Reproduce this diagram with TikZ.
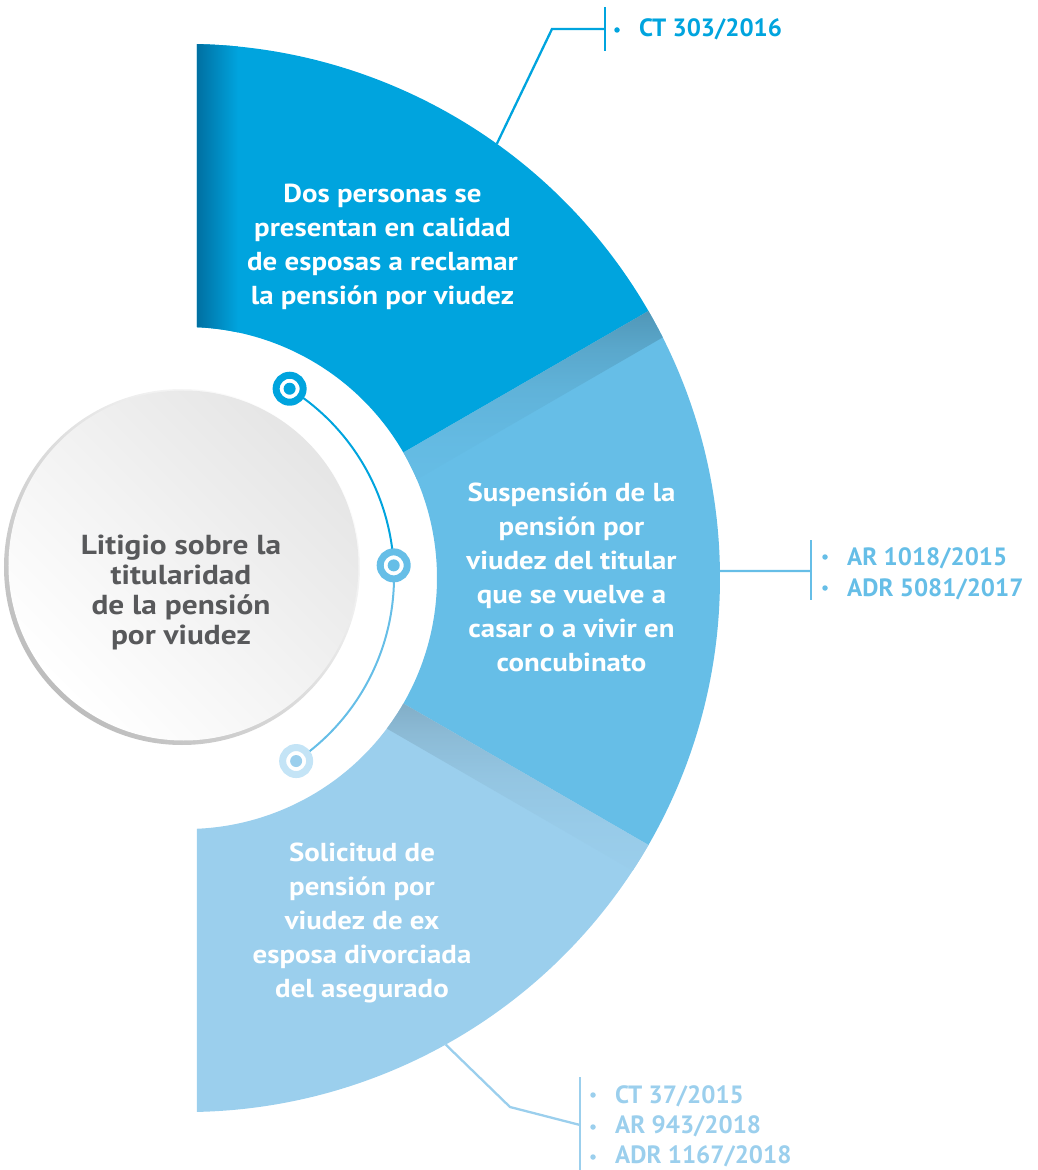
\documentclass[tikz,border=0pt]{standalone}
\usepackage{fontspec}
\setmainfont{PT Sans}
\newfontfamily\secfont[FakeStretch=1.11]{PT Sans}
\newfontfamily\circfont[FakeStretch=1.14]{PT Sans}
\usetikzlibrary{calc}
\definecolor{cA}{RGB}{0,164,222}
\definecolor{cAd}{RGB}{0,112,162}
\definecolor{cB}{RGB}{102,190,231}
\definecolor{cC}{RGB}{155,207,237}
\definecolor{cCl}{RGB}{196,228,246}
\definecolor{txtgray}{RGB}{88,89,91}
\pgfdeclareverticalshading{shadowB}{100bp}{color(0bp)=(cB); color(25bp)=(cB); color(40bp)=(cB!98!black); color(52bp)=(cB!94!black); color(62bp)=(cB!88!black); color(69bp)=(cB!81!black); color(75bp)=(cB!73!black); color(100bp)=(cB!73!black)}
\pgfdeclareverticalshading{shadowC}{100bp}{color(0bp)=(cC); color(25bp)=(cC); color(40bp)=(cC!98!black); color(52bp)=(cC!95!black); color(62bp)=(cC!90!black); color(69bp)=(cC!84!black); color(75bp)=(cC!77!black); color(100bp)=(cC!77!black)}
\begin{document}
\begin{tikzpicture}[x=1pt,y=1pt,
  secttext/.style={text=white, font=\secfont\fontsize{26}{34}\selectfont\bfseries, align=center, inner sep=0pt},
  circtext/.style={text=txtgray, font=\circfont\fontsize{27.5}{30}\selectfont\bfseries, align=center, inner sep=0pt},
  reftext/.style={font=\fontsize{25}{30}\selectfont\bfseries, anchor=base west, inner sep=0pt},
  conn/.style={line width=2.3pt},
  bul/.style={circle, inner sep=0pt, minimum size=5.5pt},
  ringdot/.style={circle, inner sep=0pt, minimum size=27pt, line width=7pt, fill=white, draw=#1},
  cdot/.style={circle, inner sep=0pt, minimum size=12pt, fill=#1},
]
\useasboundingbox (-186,-592) rectangle (852,578);
\def\R{534}
\def\r{251}
% ---------- sectors ----------
\begin{scope}
  \clip (11,-600) rectangle (900,600);
  \fill[cC] (-100:\r) -- (-100:\R) arc[start angle=-100,end angle=-30,radius=\R] -- (-30:\r) arc[start angle=-30,end angle=-100,radius=\r] -- cycle;
  \fill[cB] (-30:\r) -- (-30:\R) arc[start angle=-30,end angle=30,radius=\R] -- (30:\r) arc[start angle=30,end angle=-30,radius=\r] -- cycle;
  \fill[cA] (30:\r) -- (30:\R) arc[start angle=30,end angle=100,radius=\R] -- (100:\r) arc[start angle=100,end angle=30,radius=\r] -- cycle;
  % shadow on middle sector (cast by top sector)
  \begin{scope}
    \clip (-30:\r) -- (-30:\R) arc[start angle=-30,end angle=30,radius=\R] -- (30:\r) arc[start angle=30,end angle=-30,radius=\r] -- cycle;
    \shade[rotate=30, shading=shadowB] (200,-30) rectangle (570,0);
  \end{scope}
  % shadow on bottom sector (cast by middle sector)
  \begin{scope}
    \clip (-100:\r) -- (-100:\R) arc[start angle=-100,end angle=-30,radius=\R] -- (-30:\r) arc[start angle=-30,end angle=-100,radius=\r] -- cycle;
    \shade[rotate=-30, shading=shadowC] (200,-30) rectangle (570,0);
  \end{scope}
  % left gradient of top sector
  \begin{scope}
    \clip (30:\r) -- (30:\R) arc[start angle=30,end angle=100,radius=\R] -- (100:\r) arc[start angle=100,end angle=30,radius=\r] -- cycle;
    \shade[left color=cAd, right color=cA] (11,240) rectangle (52,540);
  \end{scope}
\end{scope}
% ---------- central circle ----------
\shade[top color=white, bottom color=black!26, shading angle=-45] (-4,11) circle[radius=178];
\shade[top color=black!10, bottom color=white, shading angle=-45] (-2.5,12.5) circle[radius=175];
\node[circtext] (center) at (-5,-14) {Litigio sobre la\\titularidad\\de la pensión\\por viudez};
% ---------- arc with dots ----------
\coordinate (ac) at (-14,1);
\coordinate (p1) at ($(ac)+(58:222)$);
\coordinate (p2) at ($(ac)+(3:222)$);
\coordinate (p3) at ($(ac)+(-56:222)$);
\draw[cA, line width=2pt] (p1) arc[start angle=58, end angle=3, radius=222];
\draw[cB, line width=2pt] (p2) arc[start angle=3, end angle=-56, radius=222];
\node[ringdot=cA] (d1) at (p1) {};
\node[cdot=cA] at (d1) {};
\node[ringdot=cB] (d2) at (p2) {};
\node[cdot=cB] at (d2) {};
\node[ringdot=cCl] (d3) at (p3) {};
\node[cdot=cC] at (d3) {};
% ---------- sector texts ----------
\node[secttext] (s1) at (196.5,331) {Dos personas se\\presentan en calidad\\de esposas a reclamar\\la pensión por viudez};
\node[secttext] (s2) at (385.5,0.5) {Suspensión de la\\pensión por\\viudez del titular\\que se vuelve a\\casar o a vivir en\\concubinato};
\node[secttext] (s3) at (176,-345) {Solicitud de\\pensión por\\viudez de ex\\esposa divorciada\\del asegurado};
% ---------- top reference ----------
\coordinate (t0) at (54.4:\R);
\coordinate (t1) at (366,549);
\coordinate (t2) at (419,549);
\coordinate (t2a) at (419,571);
\coordinate (t2b) at (419,527);
\draw[conn, cA] (t0) -- (t1) -- (t2);
\draw[conn, cA] (t2a) -- (t2b);
\node[bul, fill=cA] (b1) at (431,548) {};
\node[reftext, text=cA] (r1) at (453,541) {CT 303/2016};
% ---------- middle reference ----------
\coordinate (m0) at (0.75:\R);
\coordinate (m1) at (625,7);
\coordinate (m1a) at (625,38);
\coordinate (m1b) at (625,-22);
\draw[conn, cB] (m0) -- (m1);
\draw[conn, cB] (m1a) -- (m1b);
\node[bul, fill=cB] (b2) at (639,21) {};
\node[bul, fill=cB] (b3) at (639,-10) {};
\node[reftext, text=cB] (r2) at (661,13) {AR 1018/2015};
\node[reftext, text=cB] (r3) at (661,-18) {ADR 5081/2017};
% ---------- bottom reference ----------
\coordinate (u0) at (-60.9:\R);
\coordinate (u1) at (324,-529);
\coordinate (u2) at (394,-547);
\coordinate (u2a) at (394,-499);
\coordinate (u2b) at (394,-592);
\draw[conn, cC] (u0) -- (u1) -- (u2);
\draw[conn, cC] (u2a) -- (u2b);
\node[bul, fill=cC] (b4) at (407,-517) {};
\node[bul, fill=cC] (b5) at (407,-549) {};
\node[bul, fill=cC] (b6) at (407,-579) {};
\node[reftext, text=cC] (r4) at (429,-525) {CT 37/2015};
\node[reftext, text=cC] (r5) at (429,-555) {AR 943/2018};
\node[reftext, text=cC] (r6) at (429,-585) {ADR 1167/2018};
\end{tikzpicture}
\end{document}
